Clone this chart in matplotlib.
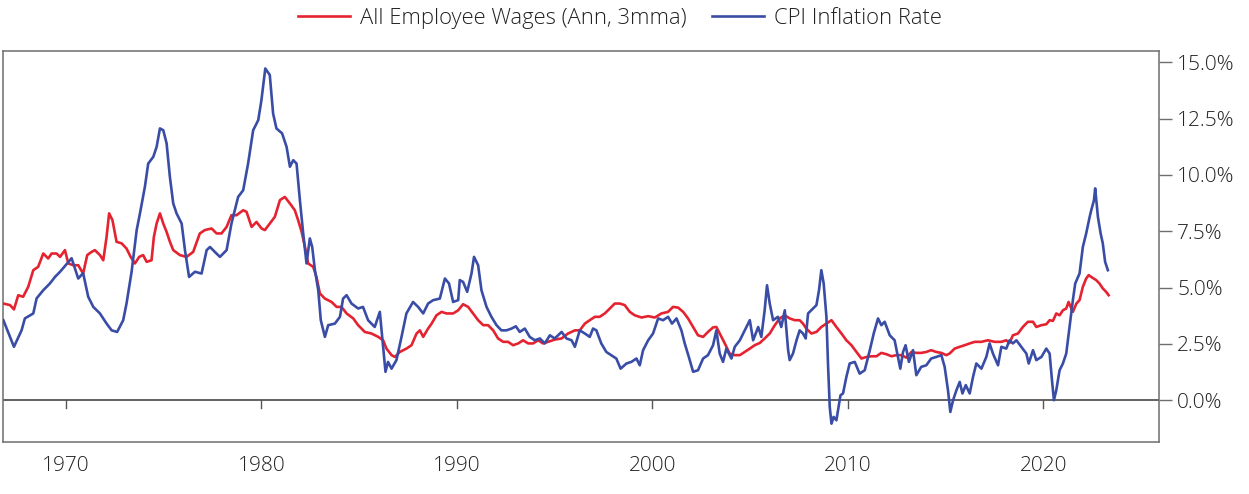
import matplotlib
matplotlib.use("Agg")
import matplotlib.pyplot as plt
from matplotlib import font_manager
import numpy as np

# ---- Data (decimal year, percent) ----
cpi_years = [1966.8, 1967.14, 1967.34, 1967.73, 1967.9, 1968.33, 1968.5, 1968.84, 1969.18, 1969.44,
             1969.7, 1970.29, 1970.63, 1970.88, 1971.14, 1971.4, 1971.74, 1972.08, 1972.34, 1972.62,
             1972.93, 1973.1, 1973.36, 1973.62, 1973.79, 1974.04, 1974.21, 1974.47, 1974.64, 1974.81,
             1974.98, 1975.15, 1975.32, 1975.49, 1975.66, 1975.92, 1976.09, 1976.3, 1976.6, 1976.94,
             1977.2, 1977.37, 1977.62, 1977.88, 1978.22, 1978.47, 1978.81, 1979.07, 1979.32, 1979.58,
             1979.84, 1980.0, 1980.2, 1980.43, 1980.6, 1980.77, 1981.06, 1981.29, 1981.46, 1981.63,
             1981.8, 1981.97, 1982.14, 1982.31, 1982.48, 1982.6, 1982.74, 1982.91, 1983.04, 1983.25,
             1983.42, 1983.76, 1984.02, 1984.18, 1984.36, 1984.61, 1984.95, 1985.2, 1985.46, 1985.8,
             1986.06, 1986.18, 1986.35, 1986.48, 1986.66, 1986.91, 1987.17, 1987.42, 1987.76, 1988.02,
             1988.28, 1988.53, 1988.79, 1989.13, 1989.39, 1989.6, 1989.81, 1990.07, 1990.15, 1990.32,
             1990.53, 1990.75, 1990.88, 1991.09, 1991.26, 1991.52, 1991.77, 1992.03, 1992.28, 1992.54,
             1992.8, 1993.02, 1993.22, 1993.48, 1993.73, 1993.99, 1994.25, 1994.5, 1994.76, 1995.01,
             1995.36, 1995.61, 1995.87, 1996.04, 1996.29, 1996.55, 1996.8, 1996.97, 1997.14, 1997.39,
             1997.65, 1997.9, 1998.16, 1998.38, 1998.68, 1998.93, 1999.19, 1999.36, 1999.53, 1999.79,
             2000.04, 2000.3, 2000.55, 2000.81, 2001.01, 2001.24, 2001.49, 2001.66, 2001.87, 2002.09,
             2002.34, 2002.6, 2002.85, 2003.11, 2003.28, 2003.45, 2003.62, 2003.79, 2004.05, 2004.22,
             2004.48, 2004.73, 2004.99, 2005.16, 2005.42, 2005.58, 2005.75, 2005.87, 2006.01, 2006.18,
             2006.43, 2006.6, 2006.78, 2006.95, 2007.03, 2007.2, 2007.38, 2007.54, 2007.71, 2007.85,
             2007.97, 2008.23, 2008.4, 2008.53, 2008.65, 2008.77, 2008.91, 2008.99, 2009.08, 2009.17,
             2009.28, 2009.42, 2009.56, 2009.63, 2009.76, 2009.93, 2010.1, 2010.36, 2010.61, 2010.87,
             2011.13, 2011.33, 2011.55, 2011.72, 2011.89, 2012.15, 2012.4, 2012.57, 2012.69, 2012.83,
             2012.96, 2013.13, 2013.34, 2013.51, 2013.76, 2014.02, 2014.27, 2014.53, 2014.79, 2014.96,
             2015.13, 2015.25, 2015.39, 2015.56, 2015.73, 2015.87, 2016.04, 2016.24, 2016.41, 2016.58,
             2016.84, 2017.09, 2017.26, 2017.43, 2017.69, 2017.86, 2018.11, 2018.28, 2018.45, 2018.63,
             2018.88, 2019.14, 2019.26, 2019.48, 2019.65, 2019.91, 2020.16, 2020.33, 2020.45, 2020.55,
             2020.67, 2020.84, 2021.01, 2021.18, 2021.35, 2021.52, 2021.64, 2021.86, 2022.03, 2022.2,
             2022.38, 2022.46, 2022.6, 2022.66, 2022.8, 2022.94, 2023.05, 2023.17, 2023.31]
cpi_values = [3.55, 2.81, 2.37, 3.10, 3.63, 3.85, 4.52, 4.88, 5.18, 5.47,
              5.70, 6.30, 5.40, 5.64, 4.59, 4.14, 3.85, 3.40, 3.10, 3.03,
              3.55, 4.29, 5.70, 7.55, 8.30, 9.47, 10.50, 10.80, 11.24, 12.06,
              11.98, 11.40, 9.90, 8.73, 8.29, 7.84, 6.66, 5.47, 5.70, 5.62,
              6.66, 6.80, 6.58, 6.36, 6.66, 7.84, 9.02, 9.32, 10.50, 11.98,
              12.43, 13.30, 14.72, 14.43, 12.72, 12.06, 11.84, 11.24, 10.36, 10.65,
              10.50, 8.88, 7.40, 6.07, 7.18, 6.80, 5.77, 4.88, 3.55, 2.81,
              3.33, 3.40, 3.70, 4.51, 4.66, 4.29, 4.07, 4.14, 3.55, 3.25,
              3.92, 2.81, 1.26, 1.70, 1.40, 1.78, 2.81, 3.85, 4.36, 4.14,
              3.85, 4.29, 4.44, 4.51, 5.40, 5.18, 4.36, 4.44, 5.33, 5.25,
              4.81, 5.62, 6.36, 5.99, 4.88, 4.14, 3.70, 3.33, 3.10, 3.10,
              3.18, 3.28, 3.03, 3.18, 2.81, 2.66, 2.74, 2.52, 2.88, 2.74,
              3.03, 2.74, 2.66, 2.37, 3.10, 2.96, 2.81, 3.18, 3.10, 2.52,
              2.14, 2.00, 1.85, 1.40, 1.63, 1.70, 1.85, 1.55, 2.22, 2.66,
              2.96, 3.63, 3.55, 3.70, 3.40, 3.63, 3.10, 2.52, 1.92, 1.26,
              1.33, 1.85, 2.00, 2.44, 3.10, 2.07, 1.70, 2.29, 1.85, 2.37,
              2.66, 3.10, 3.55, 2.66, 3.25, 2.81, 3.99, 5.10, 4.29, 3.55,
              3.70, 3.25, 3.99, 2.22, 1.78, 2.07, 2.66, 3.10, 2.96, 2.74,
              3.85, 4.07, 4.22, 4.88, 5.77, 5.18, 3.70, 1.63, -0.30, -1.04,
              -0.74, -0.89, -0.15, 0.22, 0.30, 1.03, 1.63, 1.70, 1.18, 1.33,
              2.22, 2.96, 3.63, 3.33, 3.48, 2.88, 2.66, 1.92, 1.40, 2.14,
              2.44, 1.70, 2.22, 1.11, 1.48, 1.55, 1.85, 1.92, 2.00, 1.48,
              0.44, -0.52, 0.00, 0.44, 0.81, 0.30, 0.67, 0.30, 1.03, 1.63,
              1.40, 1.92, 2.52, 2.07, 1.55, 2.37, 2.29, 2.66, 2.52, 2.66,
              2.37, 2.07, 1.63, 2.22, 1.78, 1.92, 2.29, 2.07, 0.89, 0.00,
              0.44, 1.33, 1.63, 2.07, 3.25, 4.44, 5.18, 5.62, 6.80, 7.40,
              8.14, 8.43, 8.88, 9.40, 8.14, 7.40, 6.96, 6.14, 5.77]

wage_years = [1966.8, 1967.14, 1967.34, 1967.56, 1967.81, 1968.07, 1968.33, 1968.58, 1968.84, 1969.09,
              1969.27, 1969.52, 1969.7, 1969.95, 1970.12, 1970.37, 1970.63, 1970.88, 1971.09, 1971.31,
              1971.48, 1971.74, 1971.91, 1972.08, 1972.21, 1972.38, 1972.59, 1972.85, 1973.1, 1973.31,
              1973.53, 1973.75, 1973.95, 1974.13, 1974.38, 1974.5, 1974.64, 1974.81, 1974.98, 1975.15,
              1975.32, 1975.49, 1975.83, 1976.17, 1976.51, 1976.85, 1977.11, 1977.45, 1977.71, 1977.96,
              1978.22, 1978.47, 1978.73, 1979.07, 1979.24, 1979.5, 1979.75, 1980.01, 1980.18, 1980.43,
              1980.69, 1980.95, 1981.2, 1981.46, 1981.71, 1981.88, 1982.06, 1982.23, 1982.39, 1982.65,
              1982.82, 1982.99, 1983.25, 1983.59, 1983.85, 1984.1, 1984.36, 1984.7, 1984.95, 1985.29,
              1985.63, 1985.98, 1986.23, 1986.4, 1986.66, 1986.83, 1987.08, 1987.42, 1987.68, 1987.94,
              1988.11, 1988.28, 1988.53, 1988.71, 1988.96, 1989.22, 1989.47, 1989.81, 1990.07, 1990.32,
              1990.58, 1990.83, 1991.09, 1991.35, 1991.6, 1991.86, 1992.11, 1992.37, 1992.62, 1992.88,
              1993.14, 1993.39, 1993.65, 1993.9, 1994.16, 1994.41, 1994.67, 1995.01, 1995.36, 1995.69,
              1996.04, 1996.29, 1996.55, 1996.8, 1997.06, 1997.31, 1997.57, 1997.83, 1998.08, 1998.34,
              1998.59, 1998.85, 1999.1, 1999.45, 1999.79, 2000.13, 2000.47, 2000.81, 2001.06, 2001.32,
              2001.58, 2001.83, 2002.09, 2002.34, 2002.6, 2002.85, 2003.11, 2003.28, 2003.45, 2003.71,
              2003.96, 2004.22, 2004.48, 2004.73, 2004.99, 2005.24, 2005.5, 2005.75, 2006.01, 2006.27,
              2006.52, 2006.78, 2007.03, 2007.29, 2007.54, 2007.71, 2007.88, 2008.14, 2008.4, 2008.65,
              2008.91, 2009.17, 2009.42, 2009.68, 2009.93, 2010.19, 2010.45, 2010.7, 2010.96, 2011.21,
              2011.47, 2011.72, 2011.98, 2012.24, 2012.49, 2012.75, 2013.0, 2013.26, 2013.51, 2013.76,
              2014.02, 2014.27, 2014.53, 2014.79, 2015.04, 2015.21, 2015.47, 2015.73, 2015.98, 2016.24,
              2016.5, 2016.84, 2017.17, 2017.52, 2017.86, 2018.11, 2018.28, 2018.45, 2018.71, 2018.96,
              2019.22, 2019.48, 2019.65, 2019.91, 2020.16, 2020.33, 2020.5, 2020.67, 2020.84, 2021.01,
              2021.18, 2021.3, 2021.44, 2021.52, 2021.7, 2021.86, 2022.03, 2022.2, 2022.33, 2022.46,
              2022.71, 2022.88, 2023.05, 2023.22, 2023.35]
wage_values = [4.29, 4.22, 4.03, 4.66, 4.59, 5.03, 5.77, 5.92, 6.51, 6.29,
               6.51, 6.51, 6.36, 6.66, 6.07, 5.99, 5.99, 5.62, 6.44, 6.58,
               6.66, 6.44, 6.21, 7.25, 8.29, 7.99, 7.03, 6.96, 6.73, 6.36,
               6.07, 6.36, 6.44, 6.14, 6.21, 7.25, 7.84, 8.29, 7.84, 7.47,
               7.03, 6.66, 6.44, 6.36, 6.58, 7.40, 7.55, 7.62, 7.40, 7.40,
               7.69, 8.21, 8.21, 8.43, 8.36, 7.69, 7.91, 7.62, 7.55, 7.84,
               8.14, 8.88, 9.02, 8.73, 8.43, 7.99, 7.47, 6.80, 6.07, 5.92,
               5.47, 4.74, 4.51, 4.36, 4.14, 4.14, 3.85, 3.63, 3.33, 3.03,
               2.96, 2.81, 2.66, 2.29, 2.00, 1.92, 2.14, 2.29, 2.44, 2.96,
               3.10, 2.81, 3.18, 3.40, 3.77, 3.92, 3.85, 3.85, 3.99, 4.26,
               4.14, 3.85, 3.55, 3.33, 3.33, 3.10, 2.74, 2.59, 2.59, 2.44,
               2.52, 2.66, 2.52, 2.52, 2.66, 2.52, 2.59, 2.69, 2.74, 2.96,
               3.10, 3.10, 3.40, 3.55, 3.70, 3.70, 3.85, 4.07, 4.29, 4.29,
               4.22, 3.92, 3.77, 3.67, 3.73, 3.67, 3.85, 3.92, 4.14, 4.11,
               3.92, 3.63, 3.25, 2.88, 2.81, 3.03, 3.23, 3.25, 2.96, 2.52,
               2.07, 2.00, 2.00, 2.14, 2.29, 2.44, 2.54, 2.74, 2.96, 3.33,
               3.63, 3.77, 3.63, 3.55, 3.55, 3.40, 3.18, 2.96, 3.03, 3.25,
               3.40, 3.55, 3.25, 2.96, 2.66, 2.44, 2.14, 1.85, 1.92, 1.95,
               1.95, 2.10, 2.04, 1.95, 2.00, 2.00, 1.89, 2.14, 2.10, 2.10,
               2.14, 2.22, 2.14, 2.10, 2.00, 2.07, 2.29, 2.37, 2.44, 2.52,
               2.59, 2.59, 2.66, 2.59, 2.59, 2.66, 2.54, 2.88, 2.96, 3.25,
               3.48, 3.48, 3.25, 3.33, 3.37, 3.55, 3.52, 3.85, 3.77, 3.99,
               4.07, 4.36, 4.07, 3.92, 4.29, 4.44, 5.03, 5.40, 5.55, 5.47,
               5.33, 5.18, 4.96, 4.81, 4.66]

x_ticks = [1970, 1980, 1990, 2000, 2010, 2020]
y_ticks = [0.0, 2.5, 5.0, 7.5, 10.0, 12.5, 15.0]

series_labels = ["All Employee Wages (Ann, 3mma)", "CPI Inflation Rate"]
RED = "#E52330"
BLUE = "#3A4DA6"
GRAY = "#6E6E6E"
TXT = "#222222"

plt.rcParams['font.family'] = ['Open Sans', 'DejaVu Sans']
# use a light weight if one is installed
weights = {f.weight for f in font_manager.fontManager.ttflist if f.name == 'Open Sans'}
WEIGHT = 'light' if any((isinstance(w, int) and w <= 300) or w in ('light', 'extra light') for w in weights) else 'normal'
plt.rcParams['font.weight'] = WEIGHT

fig = plt.figure(figsize=(12.49, 4.94), dpi=100)
ax = fig.add_axes([0.0024, 0.105, 0.9256, 0.7915])

ax.plot(wage_years, wage_values, color=RED, lw=1.9, label=series_labels[0], zorder=3)
ax.plot(cpi_years, cpi_values, color=BLUE, lw=1.9, label=series_labels[1], zorder=3)

ax.set_xlim(1966.78, 2025.93)
ax.set_ylim(-1.86, 15.49)

ax.axhline(0, color="#555555", lw=1.3, zorder=2)
for yr in x_ticks:
    ax.plot([yr, yr], [0, -0.36], color="#555555", lw=1.0, zorder=2, clip_on=False)

for s in ax.spines.values():
    s.set_color(GRAY)
    s.set_linewidth(1.1)

ax.yaxis.tick_right()
ax.set_yticks(y_ticks)
ax.set_yticklabels([f"{v:.1f}%" for v in y_ticks])
ax.tick_params(axis='y', direction='out', length=9, width=1.0, color=GRAY,
               labelsize=15, labelcolor=TXT, pad=4)
ax.set_xticks(x_ticks)
ax.set_xticklabels([str(v) for v in x_ticks])
ax.tick_params(axis='x', length=0, labelsize=15, labelcolor=TXT, pad=10)

fig.legend(loc='center', bbox_to_anchor=(0.4964, 0.963), ncol=2, frameon=False,
           fontsize=15.8, handlelength=2.37, columnspacing=1.14, handletextpad=0.46,
           labelcolor=TXT)

fig.savefig("out.png", dpi=100)
